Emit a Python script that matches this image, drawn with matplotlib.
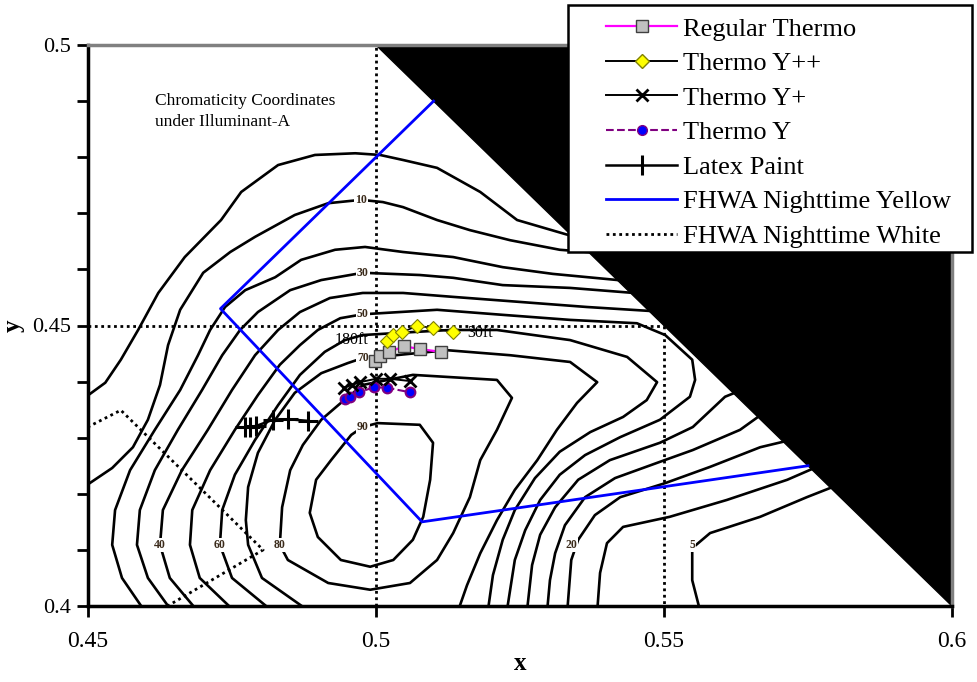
import matplotlib
matplotlib.use("Agg")
import matplotlib.pyplot as plt
from matplotlib.patches import Polygon, Rectangle
from matplotlib.lines import Line2D

plt.rcParams['font.family'] = ['Liberation Serif', 'DejaVu Serif']

### measured chromaticity, 180ft (left) to 30ft (right)
reg_x = [0.4998, 0.5007, 0.5023, 0.5049, 0.5076, 0.5113]
reg_y = [0.4437, 0.4446, 0.4453, 0.4463, 0.4458, 0.4453]
ypp_x = [0.5019, 0.5030, 0.5045, 0.5071, 0.5099, 0.5134]
ypp_y = [0.4472, 0.4483, 0.4488, 0.4499, 0.4496, 0.4488]
yp_x = [0.4944, 0.4958, 0.4972, 0.5000, 0.5024, 0.5059]
yp_y = [0.4389, 0.4394, 0.4399, 0.4405, 0.4405, 0.4401]
y_x = [0.4946, 0.4955, 0.4970, 0.4997, 0.5019, 0.5059]
y_y = [0.4369, 0.4373, 0.4381, 0.4390, 0.4389, 0.4381]
latex_x = [0.4773, 0.4781, 0.4792, 0.4821, 0.4847, 0.4882]
latex_y = [0.4319, 0.4319, 0.4321, 0.4332, 0.4333, 0.4330]

### FHWA nighttime boxes
yellow_x = [0.510, 0.473, 0.508, 0.575]
yellow_y = [0.490, 0.453, 0.415, 0.425]
white_lines = [
    ([0.500, 0.500], [0.400, 0.500]),
    ([0.450, 0.550], [0.450, 0.450]),
    ([0.550, 0.550], [0.450, 0.400]),
    ([0.4450, 0.4557, 0.4804, 0.4605], [0.4293, 0.4349, 0.4100, 0.3980]),
]

### spectral locus cut-off
locus_x = [0.5, 0.6, 0.6]
locus_y = [0.5, 0.5, 0.4]

### iso-lines of the surface (x, y)
iso5_a = [(0.4490, 0.4368), (0.4530, 0.4398), (0.4557, 0.4439), (0.4587, 0.4492), (0.4622, 0.4558),
          (0.4668, 0.4622), (0.4731, 0.4688), (0.4766, 0.4738), (0.4830, 0.4786), (0.4894, 0.4804),
          (0.4964, 0.4807), (0.5007, 0.4804), (0.5047, 0.4795), (0.5106, 0.4781), (0.5181, 0.4738),
          (0.5245, 0.4688), (0.5355, 0.4655)]
iso5_b = [(0.5800, 0.4215), (0.5748, 0.4194), (0.5667, 0.4159), (0.5580, 0.4130), (0.5549, 0.4103),
          (0.5549, 0.4046), (0.5563, 0.3990)]
iso10_a = [(0.4490, 0.4210), (0.4542, 0.4246), (0.4578, 0.4283), (0.4604, 0.4332), (0.4625, 0.4394),
           (0.4639, 0.4465), (0.4660, 0.4528), (0.4700, 0.4594), (0.4747, 0.4631), (0.4790, 0.4658),
           (0.4859, 0.4697), (0.4917, 0.4718), (0.4974, 0.4724), (0.5012, 0.4720), (0.5047, 0.4711),
           (0.5106, 0.4688), (0.5163, 0.4670), (0.5233, 0.4652), (0.5319, 0.4635), (0.5380, 0.4630)]
iso10_b = [(0.5770, 0.4250), (0.5714, 0.4225), (0.5609, 0.4189), (0.5510, 0.4159), (0.5429, 0.4141),
           (0.5401, 0.4112), (0.5389, 0.4059), (0.5384, 0.3990)]
iso20_a = [(0.4599, 0.3990), (0.4559, 0.4050), (0.4542, 0.4109), (0.4547, 0.4171), (0.4573, 0.4242),
           (0.4616, 0.4314), (0.4660, 0.4385), (0.4691, 0.4447), (0.4712, 0.4492), (0.4738, 0.4533),
           (0.4773, 0.4563), (0.4825, 0.4586), (0.4870, 0.4617), (0.4929, 0.4635), (0.4981, 0.4640),
           (0.5047, 0.4631), (0.5134, 0.4622), (0.5220, 0.4604), (0.5307, 0.4592), (0.5430, 0.4580)]
iso20_b = [(0.5720, 0.4296), (0.5667, 0.4283), (0.5580, 0.4248), (0.5502, 0.4219), (0.5424, 0.4194),
           (0.5380, 0.4162), (0.5351, 0.4118), (0.5339, 0.4082), (0.5332, 0.3990)]
iso30_a = [(0.4646, 0.3990), (0.4604, 0.4050), (0.4585, 0.4109), (0.4590, 0.4171), (0.4616, 0.4242),
           (0.4656, 0.4314), (0.4698, 0.4385), (0.4733, 0.4447), (0.4764, 0.4492), (0.4795, 0.4524),
           (0.4851, 0.4563), (0.4905, 0.4581), (0.4977, 0.4594), (0.5076, 0.4590), (0.5134, 0.4585),
           (0.5220, 0.4572), (0.5337, 0.4567), (0.5460, 0.4557)]
iso30_b = [(0.5670, 0.4342), (0.5632, 0.4314), (0.5550, 0.4278), (0.5493, 0.4257), (0.5415, 0.4228),
           (0.5363, 0.4194), (0.5328, 0.4144), (0.5311, 0.4094), (0.5302, 0.4046), (0.5297, 0.3990)]
iso40_a = [(0.4691, 0.3990), (0.4642, 0.4050), (0.4625, 0.4109), (0.4630, 0.4171), (0.4663, 0.4242),
           (0.4708, 0.4314), (0.4750, 0.4385), (0.4790, 0.4447), (0.4830, 0.4492), (0.4868, 0.4524),
           (0.4920, 0.4549), (0.4977, 0.4558), (0.5047, 0.4558), (0.5134, 0.4551), (0.5250, 0.4542),
           (0.5366, 0.4533), (0.5490, 0.4525)]
iso40_b = [(0.5630, 0.4383), (0.5606, 0.4373), (0.5550, 0.4319), (0.5493, 0.4291), (0.5406, 0.4260),
           (0.5351, 0.4225), (0.5311, 0.4176), (0.5285, 0.4127), (0.5271, 0.4073), (0.5262, 0.3990)]
iso50 = [(0.4755, 0.3990), (0.4694, 0.4050), (0.4677, 0.4109), (0.4681, 0.4171), (0.4712, 0.4242),
         (0.4755, 0.4314), (0.4795, 0.4376), (0.4833, 0.4430), (0.4868, 0.4465), (0.4899, 0.4492),
         (0.4938, 0.4513), (0.4977, 0.4520), (0.5106, 0.4528), (0.5220, 0.4519), (0.5337, 0.4510),
         (0.5453, 0.4504), (0.5502, 0.4483), (0.5549, 0.4439), (0.5554, 0.4403), (0.5545, 0.4373),
         (0.5493, 0.4332), (0.5424, 0.4301), (0.5363, 0.4269), (0.5319, 0.4234), (0.5285, 0.4189),
         (0.5259, 0.4135), (0.5241, 0.4082), (0.5227, 0.3990)]
iso60 = [(0.4821, 0.3990), (0.4750, 0.4050), (0.4729, 0.4109), (0.4733, 0.4171), (0.4755, 0.4234),
         (0.4790, 0.4296), (0.4830, 0.4358), (0.4868, 0.4412), (0.4911, 0.4453), (0.4946, 0.4474),
         (0.4977, 0.4483), (0.5042, 0.4487), (0.5128, 0.4492), (0.5210, 0.4492), (0.5337, 0.4474),
         (0.5436, 0.4444), (0.5488, 0.4399), (0.5470, 0.4367), (0.5429, 0.4337), (0.5372, 0.4310),
         (0.5319, 0.4275), (0.5276, 0.4228), (0.5241, 0.4171), (0.5220, 0.4118), (0.5203, 0.4055),
         (0.5194, 0.3990)]
iso70 = [(0.4885, 0.3990), (0.4802, 0.4050), (0.4778, 0.4109), (0.4774, 0.4153), (0.4778, 0.4212),
         (0.4795, 0.4273), (0.4825, 0.4332), (0.4859, 0.4380), (0.4905, 0.4415), (0.4951, 0.4433),
         (0.4977, 0.4442), (0.5024, 0.4446), (0.5123, 0.4456), (0.5233, 0.4447), (0.5337, 0.4435),
         (0.5384, 0.4399), (0.5349, 0.4362), (0.5314, 0.4314), (0.5280, 0.4260), (0.5241, 0.4207),
         (0.5210, 0.4153), (0.5181, 0.4094), (0.5158, 0.4037), (0.5142, 0.3990)]
iso80 = [(0.4977, 0.4394), (0.5064, 0.4412), (0.5210, 0.4403), (0.5236, 0.4371), (0.5210, 0.4314),
         (0.5181, 0.4260), (0.5163, 0.4194), (0.5134, 0.4130), (0.5106, 0.4082), (0.5059, 0.4041),
         (0.4990, 0.4029), (0.4917, 0.4041), (0.4847, 0.4082), (0.4833, 0.4109), (0.4837, 0.4176),
         (0.4851, 0.4242), (0.4873, 0.4287), (0.4905, 0.4332), (0.4939, 0.4362), (0.4977, 0.4394)]
iso90 = [(0.4977, 0.4319), (0.5003, 0.4326), (0.5076, 0.4323), (0.5099, 0.4291), (0.5094, 0.4225),
         (0.5082, 0.4159), (0.5064, 0.4118), (0.5030, 0.4082), (0.4990, 0.4070), (0.4939, 0.4082),
         (0.4899, 0.4123), (0.4885, 0.4166), (0.4896, 0.4225), (0.4922, 0.4260), (0.4957, 0.4305),
         (0.4977, 0.4319)]
iso_lines = [iso5_a, iso5_b, iso10_a, iso10_b, iso20_a, iso20_b, iso30_a, iso30_b,
             iso40_a, iso40_b, iso50, iso60, iso70, iso80, iso90]

iso_text = ['10', '30', '50', '70', '90', '40', '60', '80', '20', '5']
iso_text_x = [0.4974, 0.4977, 0.4977, 0.4977, 0.4977, 0.4625, 0.4729, 0.4833, 0.5339, 0.5549]
iso_text_y = [0.4724, 0.4594, 0.4520, 0.4442, 0.4319, 0.4109, 0.4109, 0.4109, 0.4109, 0.4109]


def main():
    fig = plt.figure(figsize=(9.77, 6.82), dpi=100)
    ax = fig.add_axes([88/977, 76/682, 864/977, 561/682])
    ax.set_xlim(0.45, 0.6)
    ax.set_ylim(0.4, 0.5)

    ### iso-lines and their values
    for pts in iso_lines:
        xs, ys = zip(*pts)
        ax.plot(xs, ys, color='black', lw=1.9, zorder=1)
    for t, x, y in zip(iso_text, iso_text_x, iso_text_y):
        ax.text(x, y, t, fontsize=8.5, fontweight='bold', color='#3a2a1a', ha='center', va='center',
                zorder=1.5, bbox=dict(fc='white', ec='none', pad=0.8))

    ### region outside the locus
    ax.add_patch(Polygon(list(zip(locus_x, locus_y)), closed=True, fc='black', ec='black', zorder=2))

    ### FHWA boundaries
    dotted = (0, (1.0, 1.3))
    for xs, ys in white_lines:
        ax.plot(xs, ys, color='black', lw=2.0, ls=dotted, zorder=3)
    ax.plot(yellow_x, yellow_y, color='#0000FF', lw=2.0, zorder=3)

    ### series
    ax.plot(latex_x, latex_y, color='black', lw=1.8, marker='+', ms=15, mew=2.2, zorder=4)
    ax.plot(y_x, y_y, color='#800080', lw=1.5, ls='--', marker='o', ms=7, mfc='#0000FF',
            mec='#800080', mew=1.5, zorder=4)
    ax.plot(yp_x, yp_y, color='black', lw=1.4, marker='x', ms=9, mew=2, zorder=4)
    ax.plot(reg_x, reg_y, color='#FF00FF', lw=1.6, marker='s', ms=8, mfc='#C0C0C0',
            mec='#404040', mew=1, zorder=4)
    ax.plot(ypp_x, ypp_y, color='black', lw=1.2, marker='D', ms=7, mfc='#FFFF00',
            mec='#808000', mew=0.8, zorder=5)

    ax.text(reg_x[0] - 0.0012, 0.4474, '180ft', fontsize=11.5, ha='right', va='center', zorder=6)
    ax.text(ypp_x[-1] + 0.0025, 0.4487, '30ft', fontsize=11.5, ha='left', va='center', zorder=6)
    ax.text(0.4617, 0.4915, 'Chromaticity Coordinates\nunder Illuminant-A', fontsize=12.5,
            ha='left', va='top', linespacing=1.45, zorder=6)

    ### axes styling
    ax.set_xticks([0.45, 0.5, 0.55, 0.6])
    ax.set_xticklabels(['0.45', '0.5', '0.55', '0.6'])
    ax.set_yticks([0.4, 0.45, 0.5])
    ax.set_yticklabels(['0.4', '0.45', '0.5'])
    ax.set_yticks([0.41, 0.42, 0.43, 0.44, 0.46, 0.47, 0.48, 0.49], minor=True)
    ax.tick_params(axis='both', which='major', direction='out', length=8, width=2, labelsize=17)
    ax.tick_params(axis='y', which='minor', direction='out', length=8, width=2)
    ax.tick_params(axis='x', pad=10)
    ax.tick_params(axis='y', pad=4, labelsize=16)
    for s in ['left', 'bottom']:
        ax.spines[s].set_linewidth(2.5)
        ax.spines[s].set_color('black')
    for s in ['top', 'right']:
        ax.spines[s].set_linewidth(2.5)
        ax.spines[s].set_color('#808080')
    ax.set_xlabel('x', fontsize=18, fontweight='bold', labelpad=0)
    ax.set_ylabel('y', fontsize=18, fontweight='bold')
    ax.yaxis.set_label_coords(-0.073, 0.5)

    ### legend with its own frame
    fig.add_artist(Rectangle((568/977, 1 - 252/682), 404/977, 247/682, transform=fig.transFigure,
                             fc='white', ec='black', lw=1.8, zorder=4))
    handles = [
        Line2D([], [], color='#FF00FF', lw=1.6, marker='s', ms=8, mfc='#C0C0C0', mec='#404040'),
        Line2D([], [], color='black', lw=1.4, marker='D', ms=7, mfc='#FFFF00', mec='#808000'),
        Line2D([], [], color='black', lw=1.4, marker='x', ms=9, mew=2),
        Line2D([], [], color='#800080', lw=1.5, ls='--', marker='o', ms=7, mfc='#0000FF', mec='#800080'),
        Line2D([], [], color='black', lw=1.8, marker='|', ms=15, mew=2.2),
        Line2D([], [], color='#0000FF', lw=2.0),
        Line2D([], [], color='black', lw=2.0, ls=dotted),
    ]
    labels = ['Regular Thermo', 'Thermo Y++', 'Thermo Y+', 'Thermo Y', 'Latex Paint',
              'FHWA Nighttime Yellow', 'FHWA Nighttime White']
    fig.legend(handles, labels, loc='upper left', bbox_to_anchor=(585/977, 1 + 4/682),
               bbox_transform=fig.transFigure, frameon=False, fontsize=19, handlelength=2.7,
               handletextpad=0.2, labelspacing=0.42, borderpad=0.3)

    plt.savefig('out.png', dpi=100)
    plt.close()


if __name__ == "__main__":
    main()
